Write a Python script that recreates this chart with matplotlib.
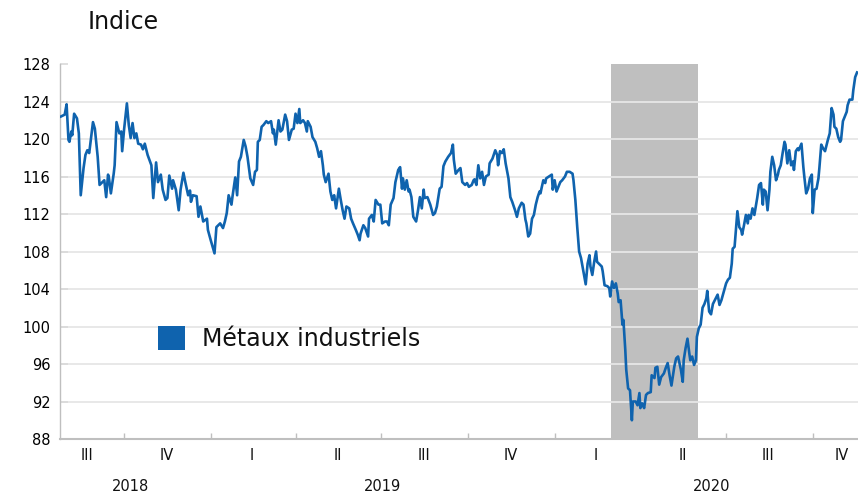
import matplotlib
matplotlib.use("Agg")
import matplotlib.pyplot as plt
import matplotlib.transforms as mtransforms
from matplotlib.patches import Patch
import pandas as pd

plt.rcParams['font.family'] = ['DejaVu Sans']

# ---- data -------------------------------------------------------------
# observation dates expressed as days since 2018-10-01
base_date = "2018-10-01"
jours = [
    -67, -63, -61, -59, -58, -56, -55, -53, -50, -48,
    -46, -43, -41, -39, -37, -35, -33, -31, -28, -26,
    -24, -21, -19, -17, -16, -14, -11, -10, -8, -5,
    -3, -2, 0, 3, 5, 7, 9, 11, 13, 15,
    18, 20, 22, 25, 29, 31, 34, 36, 39, 41,
    44, 46, 48, 51, 52, 55, 58, 60, 63, 65,
    68, 70, 71, 73, 77, 79, 81, 84, 88, 89,
    92, 96, 98, 102, 105, 107, 109, 111, 114, 115,
    118, 120, 122, 124, 127, 129, 131, 134,
    137, 139, 141, 142, 144, 146, 148, 151, 153, 156,
    158, 159, 161, 164, 166, 168, 171, 173, 175, 178,
    180, 182, 184, 186, 187, 190, 192, 194, 195, 198,
    200, 203, 205, 207, 209, 211, 212, 214, 217, 219,
    221, 223, 225, 227, 228, 230, 232, 234, 236, 239,
    241, 243, 246, 248, 250, 251, 254, 256, 259, 260,
    263, 265, 267, 270, 272, 274, 277, 279, 281, 283,
    286, 288, 291, 293, 295, 296, 298, 300, 302, 303,
    305, 307, 310, 312, 314, 316, 318, 319, 322, 325,
    328, 330, 332, 335, 337, 339, 341, 344,
    347, 349, 350, 352, 355, 357, 359, 362, 364, 366,
    369, 371, 372, 374, 376, 378, 380, 382, 384, 387,
    388, 391, 394, 396, 397, 399, 401, 403, 405, 408,
    410, 412, 415, 417, 419, 422, 424, 426, 427, 429,
    431, 433, 435, 437, 439, 441, 442, 443, 445, 447,
    448, 451, 454, 455, 457, 459, 461, 463, 465, 468,
    470, 473, 476, 477, 479, 481, 483, 485, 487, 488,
    490, 492, 494, 495, 497, 499, 501, 502, 504, 507,
    508, 510, 513, 515, 516, 518, 520, 522, 524, 525,
    527, 529, 530, 532, 533, 535, 537, 539, 540, 543,
    545, 547, 548, 550, 552, 554, 556, 559, 560, 563,
    564, 566, 568, 570, 573, 575, 577, 579, 581, 584,
    586, 588, 591, 593, 594, 596, 598, 600, 601, 603,
    605, 607, 608, 610, 612, 614, 616, 618, 619, 621,
    623, 625, 628, 630, 632, 634, 637, 639, 641, 643,
    645, 646, 648, 651, 653, 655, 656, 658, 660, 662,
    663, 665, 667, 669, 671, 672, 674, 676, 678, 679,
    681, 683, 685, 686, 688, 690, 692, 694, 695, 697,
    699, 701, 702, 704, 706, 708, 710, 711, 713, 715,
    716, 719, 721, 722, 724, 726, 728, 730, 731, 733,
    735, 737, 738, 740, 742, 744, 746, 747, 749, 751,
    753, 754, 756, 758, 760, 761, 763, 765, 767, 768,
    770, 773, 774, 776, 778,
]
metaux = [
    122.4, 122.6, 123.7, 119.9, 119.7, 120.8, 120.4, 122.7, 122.2, 120.6,
    114.0, 116.9, 118.3, 118.8, 118.5, 120.2, 121.8, 121.1, 118.1, 115.1,
    115.3, 115.6, 113.8, 116.2, 115.8, 114.2, 116.3, 117.2, 121.8, 120.6,
    120.8, 118.7, 121.0, 123.8, 121.5, 120.1, 121.7, 120.1, 120.6, 119.5,
    119.4, 118.9, 119.5, 118.3, 117.2, 113.7, 117.5, 115.4, 116.2, 114.6,
    113.5, 113.7, 116.1, 114.7, 115.6, 114.6, 112.4, 114.6, 116.4, 115.4,
    114.0, 114.5, 113.3, 114.0, 113.9, 111.7, 112.8, 111.2, 111.5, 110.3,
    109.2, 107.8, 110.6, 111.0, 110.5, 111.2, 112.1, 114.0, 113.0, 113.8,
    115.9, 114.0, 117.6, 118.1, 119.9, 119.2, 118.1, 115.8,
    115.1, 116.5, 116.7, 119.7, 119.9, 121.3, 121.5, 121.9, 121.7, 121.9,
    120.6, 121.0, 119.4, 122.0, 120.8, 121.0, 122.6, 121.9, 119.9, 121.0,
    121.1, 122.7, 121.7, 123.2, 121.7, 122.0, 121.7, 120.8, 121.9, 121.3,
    120.2, 119.7, 119.0, 118.1, 118.7, 117.2, 116.2, 115.4, 116.3, 114.4,
    113.5, 114.0, 112.6, 114.0, 114.7, 113.5, 112.4, 111.5, 112.8, 112.6,
    111.5, 111.0, 110.3, 109.8, 109.2, 109.9, 110.8, 110.5, 109.6, 111.5,
    111.9, 111.2, 113.5, 113.0, 113.0, 111.0, 111.2, 111.2, 110.8, 113.0,
    113.7, 115.4, 116.7, 117.0, 114.7, 115.8, 114.6, 115.6, 114.4, 114.6,
    113.8, 111.7, 111.2, 112.4, 113.8, 112.6, 114.6, 113.7, 113.8, 113.0,
    111.9, 112.1, 112.8, 114.7, 114.9, 117.1, 117.6, 118.1,
    118.5, 119.4, 117.8, 116.3, 116.7, 116.9, 115.4, 115.1, 115.3, 114.9,
    115.1, 115.6, 115.7, 115.1, 117.2, 115.8, 116.5, 115.1, 116.0, 116.2,
    117.4, 117.9, 118.8, 118.3, 117.2, 118.7, 118.5, 118.9, 117.4, 115.8,
    113.8, 113.3, 112.4, 111.7, 112.6, 113.2, 113.0, 111.4, 111.0, 109.6,
    109.9, 111.5, 111.9, 113.0, 113.8, 114.4, 114.2, 114.7, 115.6, 115.3,
    115.8, 116.0, 116.2, 114.6, 115.6, 114.4, 114.9, 115.4, 115.6, 116.0,
    116.5, 116.5, 116.3, 115.6, 113.5, 110.6, 108.0, 107.3, 106.2, 105.7,
    104.5, 106.7, 107.6, 106.4, 105.5, 106.9, 108.0, 106.9, 106.7, 106.4,
    105.9, 104.4, 104.3, 104.1, 103.2, 104.8, 104.1, 104.6, 103.5, 102.6,
    102.8, 100.2, 100.7, 97.5, 95.4, 93.4, 93.2, 90.0, 92.0, 92.0,
    91.6, 92.9, 91.3, 91.8, 91.3, 92.7, 92.9, 93.0, 94.8, 94.5,
    95.6, 95.7, 93.8, 94.6, 95.0, 95.6, 96.1, 94.8, 93.7, 95.7,
    96.6, 96.8, 95.4, 94.1, 96.4, 97.7, 98.7, 97.1, 96.4, 96.8,
    95.9, 96.4, 98.9, 99.8, 100.2, 102.0, 102.4, 103.0, 103.8, 101.6,
    101.3, 102.4, 103.0, 103.4, 102.3, 102.8, 103.9, 104.6, 105.0, 105.2,
    106.7, 108.3, 108.5, 112.3, 110.6, 110.3, 109.8, 110.8, 111.9, 111.0,
    111.9, 111.5, 112.6, 111.9, 113.1, 113.7, 115.1, 115.3, 113.0, 114.6,
    114.4, 112.4, 114.6, 116.5, 118.1, 117.2, 115.6, 116.2, 116.7, 117.2,
    118.5, 119.7, 119.4, 117.4, 118.8, 117.2, 117.6, 116.7, 118.7, 119.0,
    118.8, 119.5, 117.0, 116.0, 114.2, 114.7, 115.8, 116.2, 112.1, 114.6,
    114.7, 115.8, 116.9, 119.4, 119.0, 118.7, 119.5, 119.9, 120.6, 123.3,
    122.6, 121.3, 121.1, 120.2, 119.7, 119.9, 121.9, 122.4, 122.9, 123.6,
    124.2, 124.2, 125.2, 126.6, 127.1,
]

series_label = "Métaux industriels"
y_title = "Indice"
y_ticks = [88, 92, 96, 100, 104, 108, 112, 116, 120, 124, 128]
quarter_starts = ["2018-10-01", "2019-01-01", "2019-04-01", "2019-07-01",
                  "2019-10-01", "2020-01-01", "2020-04-01", "2020-07-01",
                  "2020-10-01"]
quarter_labels = ["III", "IV", "I", "II", "III", "IV", "I", "II", "III", "IV"]
quarter_label_dates = ["2018-08-23", "2018-11-15", "2019-02-14", "2019-05-16",
                       "2019-08-15", "2019-11-15", "2020-02-14", "2020-05-16",
                       "2020-08-15", "2020-11-01"]
year_labels = ["2018", "2019", "2020"]
year_label_dates = ["2018-10-08", "2019-07-02", "2020-06-16"]
shade_span = ["2020-03-01", "2020-06-01"]
x_range = ["2018-07-25", "2020-11-18"]

# ---- figure -----------------------------------------------------------
dates = pd.Timestamp(base_date) + pd.to_timedelta(jours, unit="D")

fig = plt.figure(figsize=(8.58, 4.95), dpi=100)
ax = fig.add_axes([60 / 858, 56 / 495, 798 / 858, 375 / 495])

line_color = "#0F63AE"
ax.axvspan(pd.Timestamp(shade_span[0]), pd.Timestamp(shade_span[1]),
           color="#BFBFBF", lw=0, zorder=0)
for v in y_ticks[1:-1]:
    ax.axhline(v, color="#E6E6E6", lw=1.3, zorder=1)
ax.plot(dates, metaux, color=line_color, lw=1.9, zorder=3,
        solid_joinstyle="round")

ax.set_ylim(88, 128)
ax.set_xlim(pd.Timestamp(x_range[0]), pd.Timestamp(x_range[1]))
ax.set_yticks(y_ticks)
ax.set_yticklabels([str(v) for v in y_ticks], fontsize=10.5)
ax.tick_params(axis="y", direction="in", length=6, width=1.2,
               color="#D9D9D9", pad=7)
ax.set_xticks(pd.to_datetime(quarter_starts))
ax.set_xticklabels([])
ax.tick_params(axis="x", direction="in", length=4.5, width=1,
               color="#BFBFBF")

for s in ["top", "right"]:
    ax.spines[s].set_visible(False)
ax.spines["left"].set_color("#BFBFBF")
ax.spines["left"].set_linewidth(1)
ax.spines["bottom"].set_color("#BFBFBF")
ax.spines["bottom"].set_linewidth(1.5)

trans = mtransforms.blended_transform_factory(ax.transData, ax.transAxes)
for lab, d in zip(quarter_labels, quarter_label_dates):
    ax.text(pd.Timestamp(d), -0.043, lab, transform=trans, ha="center",
            va="center", fontsize=10.5, color="#111111")
for lab, d in zip(year_labels, year_label_dates):
    ax.text(pd.Timestamp(d), -0.126, lab, transform=trans, ha="center",
            va="center", fontsize=10.5, color="#111111")

fig.text(88 / 858, 1 - 22 / 495, y_title, ha="left", va="center",
         fontsize=17, color="#111111")

leg = ax.legend(handles=[Patch(facecolor=line_color, edgecolor="none",
                               label=series_label)],
                loc="center left", bbox_to_anchor=(0.1228, 0.2693),
                frameon=False, fontsize=17, handlelength=1.15,
                handleheight=1.19, handletextpad=0.72, borderpad=0,
                borderaxespad=0)
for t in leg.get_texts():
    t.set_color("#111111")

fig.savefig("out.png", dpi=100)
